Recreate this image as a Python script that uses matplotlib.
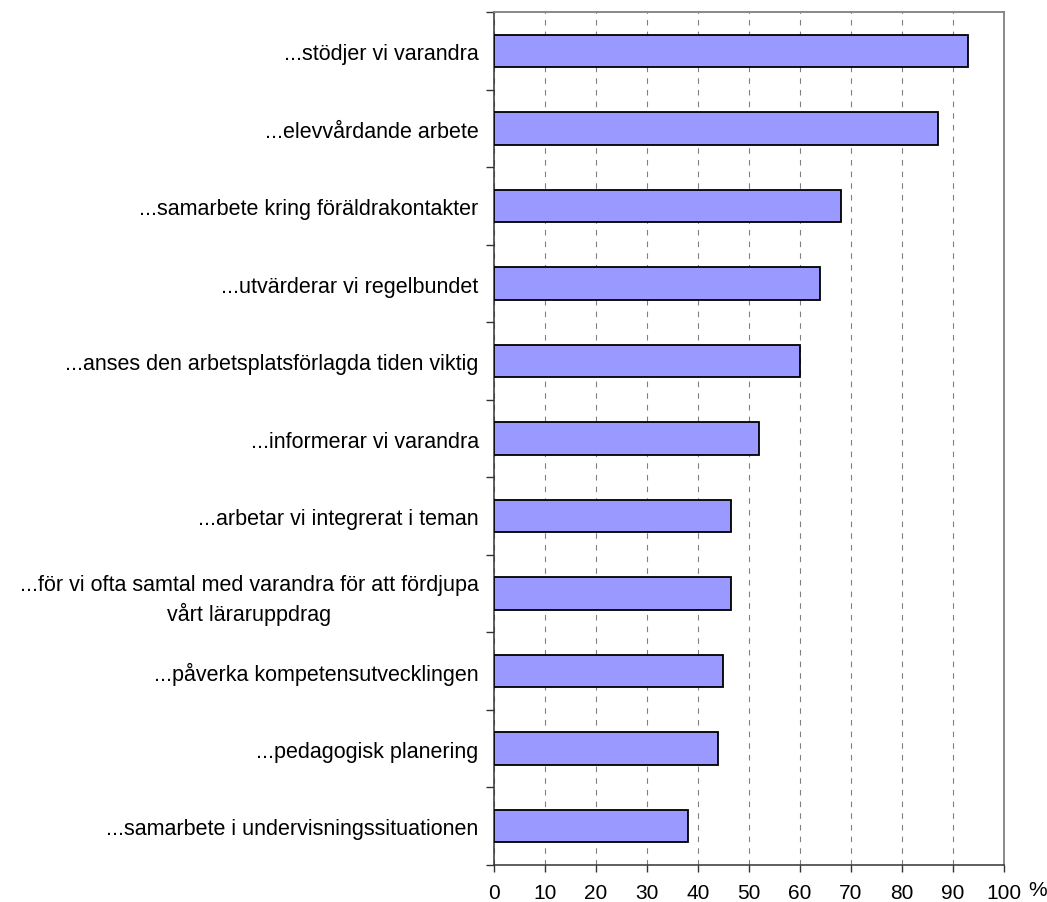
import numpy as np
import matplotlib.pyplot as plt

plt.rcParams['font.family'] = ['Liberation Sans', 'DejaVu Sans']

# categories, top to bottom
labels = [
    '...stödjer vi varandra',
    '...elevvårdande arbete',
    '...samarbete kring föräldrakontakter',
    '...utvärderar vi regelbundet',
    '...anses den arbetsplatsförlagda tiden viktig',
    '...informerar vi varandra',
    '...arbetar vi integrerat i teman',
    '...för vi ofta samtal med varandra för att fördjupa\nvårt läraruppdrag',
    '...påverka kompetensutvecklingen',
    '...pedagogisk planering',
    '...samarbete i undervisningssituationen',
]
percent = [93, 87, 68, 64, 60, 52, 46.5, 46.5, 45, 44, 38]
xticks = [0, 10, 20, 30, 40, 50, 60, 70, 80, 90, 100]

fig = plt.figure(figsize=(10.47, 9.03), dpi=100)
ax = fig.add_axes([0.4718, 0.041, 0.4871, 0.9443])

y = np.arange(len(labels))
ax.barh(y, percent, height=0.42, color='#9999FF', edgecolor='black',
        linewidth=1.3, zorder=3)

ax.set_xlim(0, 100)
ax.set_ylim(len(labels) - 0.5, -0.5)

# x axis
ax.set_xticks(xticks)
ax.set_xticklabels([str(v) for v in xticks], fontsize=15)
ax.tick_params(axis='x', direction='out', length=5, width=1, color='#333333', pad=8)
ax.xaxis.grid(True, linestyle=(0, (5, 5.5)), color='#808080', linewidth=0.8, zorder=0)
ax.set_axisbelow(True)

# y axis: ticks at category borders, labels at centres
ax.set_yticks(np.arange(-0.5, len(labels), 1))
ax.set_yticklabels([])
ax.tick_params(axis='y', which='major', direction='out', length=6, width=1, color='#333333')
ax.set_yticks(y, minor=True)
ax.set_yticklabels(labels, minor=True, fontsize=15.5, multialignment='center')
ax.tick_params(axis='y', which='minor', length=0, pad=11)
for lbl in ax.get_yticklabels(minor=True):
    lbl.set_linespacing(1.4)

for side in ['left', 'bottom']:
    ax.spines[side].set_color('#333333')
    ax.spines[side].set_linewidth(1.1)
for side in ['top', 'right']:
    ax.spines[side].set_color('#808080')
    ax.spines[side].set_linewidth(1.3)

ax.text(1.066, -0.029, '%', transform=ax.transAxes, fontsize=15,
        ha='center', va='center')

plt.savefig('out.png', dpi=100)
